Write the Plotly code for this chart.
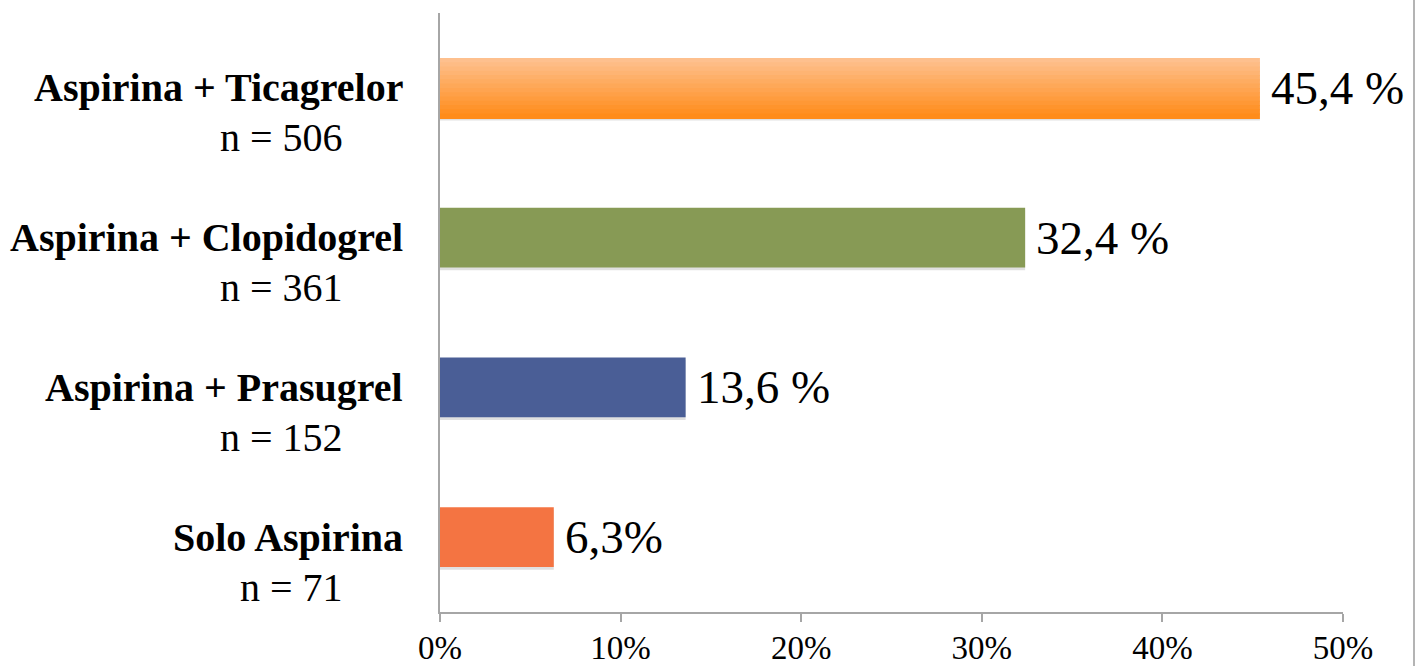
import plotly.graph_objects as go

# Treatment groups, top to bottom
categories = ["Aspirina + Ticagrelor", "Aspirina + Clopidogrel", "Aspirina + Prasugrel", "Solo Aspirina"]
counts = ["n = 506", "n = 361", "n = 152", "n = 71"]
percentages = [45.4, 32.4, 13.6, 6.3]
value_labels = ["45,4 %", "32,4 %", "13,6 %", "6,3%"]
tick_values = [0, 10, 20, 30, 40, 50]
tick_labels = ["0%", "10%", "20%", "30%", "40%", "50%"]

# Flat colours for the lower three bars; the top bar gets a vertical gradient
solid_colors = {1: "#879A55", 2: "#4A5E96", 3: "#F47442"}
grad_top = (254, 192, 142)
grad_bottom = (255, 140, 26)

FONT = "Liberation Serif"
BAR_W = 0.4
N_SLICES = 14

fig = go.Figure()

# Soft drop shadow under every bar
fig.add_trace(go.Bar(
    x=percentages, y=categories, orientation="h",
    width=BAR_W, offset=-BAR_W / 2 + 0.018,
    marker=dict(color="rgba(0,0,0,0.12)", line=dict(width=0)),
    hoverinfo="skip", showlegend=False,
))

# Solid bars
for i, col in solid_colors.items():
    fig.add_trace(go.Bar(
        x=[percentages[i]], y=[categories[i]], orientation="h",
        width=BAR_W, offset=-BAR_W / 2,
        marker=dict(color=col, line=dict(width=0)),
        showlegend=False,
    ))

# Gradient bar built from thin horizontal strips
slice_w = BAR_W / N_SLICES
for k in range(N_SLICES):
    t = k / (N_SLICES - 1)
    r, g, b = (round(a + (c - a) * t) for a, c in zip(grad_top, grad_bottom))
    fig.add_trace(go.Bar(
        x=[percentages[0]], y=[categories[0]], orientation="h",
        width=slice_w * 1.25, offset=-BAR_W / 2 + k * slice_w,
        marker=dict(color=f"rgb({r},{g},{b})", line=dict(width=0)),
        showlegend=False,
    ))

# Value labels at the bar ends
for cat, val, lab in zip(categories, percentages, value_labels):
    fig.add_annotation(
        x=val, y=cat, xref="x", yref="y", text=lab, showarrow=False,
        xanchor="left", yanchor="middle", xshift=9,
        font=dict(family=FONT, size=47, color="black"),
    )

# Two-line category labels: bold name plus sample size
PLOT_W = 1419 - 440 - 76
for cat, n in zip(categories, counts):
    fig.add_annotation(
        x=-35 / PLOT_W, y=cat, xref="paper", yref="y", text=f"<b>{cat}</b>",
        showarrow=False, xanchor="right", yanchor="middle", yshift=0,
        font=dict(family=FONT, size=40, color="black"),
    )
    fig.add_annotation(
        x=-95 / PLOT_W, y=cat, xref="paper", yref="y", text=n,
        showarrow=False, xanchor="right", yanchor="middle", yshift=-50,
        font=dict(family=FONT, size=40, color="black"),
    )

# Thin frame line at the right edge of the canvas
PLOT_H = 666 - 13 - 54
fig.add_shape(
    type="line", xref="paper", yref="paper",
    x0=(1414 - 440) / PLOT_W, x1=(1414 - 440) / PLOT_W,
    y0=-54 / PLOT_H, y1=1 + 13 / PLOT_H,
    line=dict(color="#B4B4B4", width=2),
)

fig.update_layout(
    width=1419, height=666,
    margin=dict(l=440, r=76, t=13, b=54, autoexpand=False),
    paper_bgcolor="white", plot_bgcolor="white",
    barmode="overlay",
    showlegend=False,
    xaxis=dict(
        range=[0, 50], tickvals=tick_values, ticktext=tick_labels,
        showgrid=False, zeroline=False, automargin=False,
        showline=True, linecolor="#A6A6A6", linewidth=2,
        ticks="outside", ticklen=8, tickwidth=2, tickcolor="#A6A6A6",
        ticklabelstandoff=-3,
        tickfont=dict(family=FONT, size=33, color="black"),
        fixedrange=True,
    ),
    yaxis=dict(
        autorange="reversed", showticklabels=False, automargin=False,
        showgrid=False, zeroline=False,
        showline=True, linecolor="#A6A6A6", linewidth=2,
        ticks="", fixedrange=True,
    ),
)

fig.write_html("out.html")
